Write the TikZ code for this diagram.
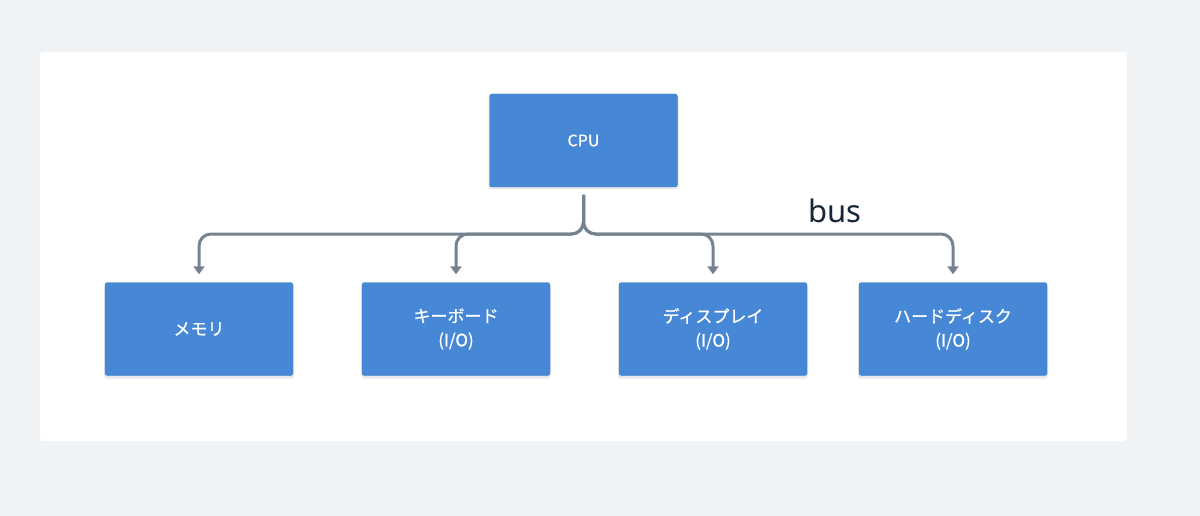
\documentclass[tikz,border=0pt]{standalone}
\usepackage{fontspec}
\setmainfont{Noto Sans}
\newfontfamily\jpfont[FakeBold=0.6]{Noto Sans CJK JP}
\usetikzlibrary{arrows.meta,positioning}
\definecolor{hwcanvas}{HTML}{EFF3F6}
\definecolor{hwpanel} {HTML}{FFFFFF}
\definecolor{hwblue}  {HTML}{4788D6}
\definecolor{hwshade} {HTML}{C9D2DC}
\definecolor{hwbus}   {HTML}{76838F}
\definecolor{hwink}   {HTML}{17263A}

\begin{document}
\begin{tikzpicture}[
  x=1pt, y=-1pt,
  unit/.style={rectangle, rounded corners=2.5pt, fill=hwblue,
               draw=hwblue!92!black, line width=0.4pt,
               minimum width=188pt, minimum height=93pt, inner sep=0pt,
               text=white, align=center,
               font=\jpfont\fontsize{17}{24}\selectfont},
  shade/.style={fill=hwshade, rounded corners=3pt, opacity=0.45},
  wire/.style={draw=hwbus, line width=3pt, rounded corners=12pt,
               -{Triangle[length=8pt,width=11pt]}},
]
  % Canvas and the white panel it carries.
  \fill[hwcanvas] (0,0) rectangle (1200,516);
  \useasboundingbox (0,0) rectangle (1200,516);
  \fill[hwpanel, rounded corners=3pt] (40,52) rectangle (1127,441);

  % Faint shadows under the boxes.
  \foreach \cx/\cy in {583.5/141.5, 199/330.5, 456/330.5, 713/330.5, 953/330.5}
    { \fill[shade] (\cx-95,\cy-46) rectangle (\cx+95,\cy+48); }

  \node[unit, font=\jpfont\fontsize{16}{18}\selectfont] (cpu) at (583.5,140.5) {CPU};
  \node[unit] (mem) at (199,329)   {メモリ};
  \node[unit] (kbd) at (456,329)   {キーボード\\(I/O)};
  \node[unit] (dsp) at (713,329)   {ディスプレイ\\(I/O)};
  \node[unit] (hdd) at (953,329)   {ハードディスク\\(I/O)};

  % The bus: one trunk out of the CPU, fanned out to every device.
  \coordinate (tap) at (583.5,195);
  \coordinate (fork) at (583.5,234);
  \foreach \dev in {mem,kbd,dsp,hdd}
    { \draw[wire] (tap) -- (fork) -- (fork -| \dev.north)
        -- ([yshift=8pt]\dev.north); }

  \node[font=\fontsize{31}{34}\selectfont, text=hwink] (bus) at (835,211) {bus};
\end{tikzpicture}
\end{document}
